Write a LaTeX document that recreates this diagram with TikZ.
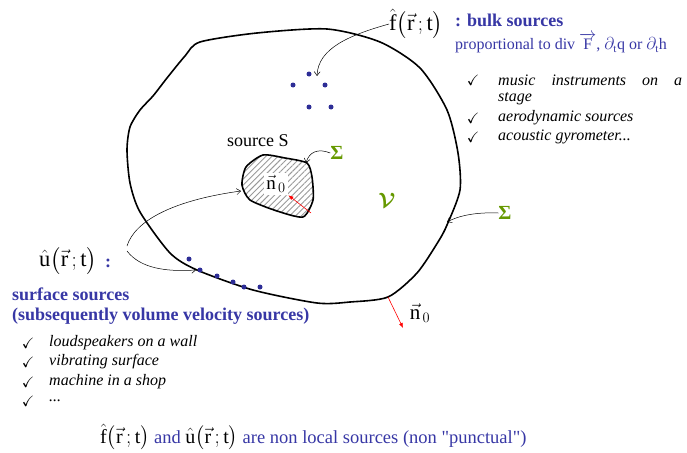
\documentclass[tikz,border=0pt]{standalone}
\usepackage{amsmath,amssymb}
\usepackage{fontspec}
\setmainfont{Liberation Serif}
\newfontfamily\qfont{Liberation Serif}[Ligatures=TeXOff]
\usetikzlibrary{patterns,patterns.meta,arrows.meta}
\definecolor{tblue}{RGB}{55,55,165}
\definecolor{tgreen}{RGB}{102,153,0}
\definecolor{dotblue}{RGB}{45,45,150}
\newcommand\fhatr{$\hat{\text{f}}\bigl(\vec{\text{r}}\,;\text{t}\bigr)$}
\newcommand\uhatr{$\hat{\text{u}}\bigl(\vec{\text{r}}\,;\text{t}\bigr)$}
\newcommand\nzero{$\vec{\text{n}}_{\,0}$}
\begin{document}
\begin{tikzpicture}[x=1pt,y=-1pt,
  lbl/.style={inner sep=0pt, anchor=west},
  bdry/.style={line width=1.6pt, line join=round},
  srcdot/.style={circle, fill=dotblue, inner sep=0pt, minimum size=5pt},
  thin arrow/.style={line width=0.5pt, -{Straight Barb[length=4pt,width=6pt]}},
  red arrow/.style={red, line width=0.6pt, -{Latex[length=5pt,width=4pt]}},
  chk/.style={inner sep=0pt, font=\fontsize{15}{17}\selectfont},
  itl/.style={inner sep=0pt, anchor=west, font=\fontsize{16}{18}\selectfont\itshape},
  sig/.style={inner sep=0pt, text=tgreen, font=\fontsize{20}{22}\selectfont\bfseries},
  bigmath/.style={inner sep=0pt, anchor=west, font=\fontsize{22.5}{26}\selectfont}]
\useasboundingbox (0,0) rectangle (687,452);

% outer volume boundary
\draw[bdry] plot[smooth cycle, tension=0.45] coordinates {
 (200,42) (257,33) (327,29) (380,42) (420,68) (447,110) (458,153)
 (460,190) (447,225) (438,242) (417,273) (388,297) (350,302) (317,303)
 (253,290) (197,270) (170,253) (140,212) (130,183) (127,150) (130,127)
 (140,110) (153,96) (167,78) (185,56)};

% inner source S
\draw[bdry, pattern={Lines[angle=45,distance=4.2pt,line width=0.9pt]}, pattern color=gray!80]
 plot[smooth cycle, tension=0.4] coordinates {
 (263,155) (285,158) (307,163) (312,177) (313,200) (303,217) (277,211)
 (250,200) (242,185) (246,167)};

\node[fill=white, inner sep=2.5pt, font=\fontsize{19}{21}\selectfont] (n0i) at (276,184) {\nzero};
\coordinate (ri) at (311,213);
\draw[red arrow] (ri) -- (n0i.south east);

\node[lbl, font=\fontsize{18}{20}\selectfont] (srcS) at (227,141) {source S};
\node[sig] (sigi) at (337,153) {Σ};
\coordinate (sigiend) at (306,163);
\draw[thin arrow] (sigi.west) .. controls (318,148) and (309,152) .. (sigiend);

\node[inner sep=0pt, text=tgreen, font=\fontsize{22}{24}\selectfont] (vol) at (387,200) {$\boldsymbol{\mathcal{V}}$};

\node[sig] (sigo) at (505,213) {Σ};
\coordinate (sigoend) at (447,222);
\draw[thin arrow] (sigo.west) .. controls (475,212) and (458,216) .. (sigoend);

% outer normal
\coordinate (ro) at (388,297);
\coordinate (roend) at (403,328);
\draw[red arrow] (ro) -- (roend);
\node[inner sep=0pt, font=\fontsize{21}{23}\selectfont] (n0o) at (420,313) {\nzero};

% bulk sources
\node[srcdot] (b1) at (309,74) {};
\node[srcdot] (b2) at (293,85) {};
\node[srcdot] (b3) at (325,85) {};
\node[srcdot] (b4) at (309,107) {};
\node[srcdot] (b5) at (331,107) {};

\node[bigmath] (fhat) at (389,24) {\fhatr};
\draw[thin arrow] (fhat.west) .. controls (350,35) and (318,48) .. (317,76);
\node[lbl, text=tblue, font=\fontsize{18}{20}\selectfont\bfseries] (bulk) at (455,20) {: bulk sources};
\node[lbl, text=tblue, font=\fontsize{16}{18}\selectfont] (prop) at (455,43)
 {proportional to div $\overrightarrow{\text{F}}$, $\partial_{\text{t}}$q or $\partial_{\text{t}}$h};

\node[chk] (c1) at (473,80) {$\checkmark$};
\node[chk] (c2) at (473,118) {$\checkmark$};
\node[chk] (c3) at (473,137) {$\checkmark$};
\node[itl] (t1) at (498,80) {\makebox[184pt][s]{music instruments on a}};
\node[itl] (t1b) at (498,99) {stage};
\node[itl] (t2) at (498,118) {aerodynamic sources};
\node[itl] (t3) at (498,137) {acoustic gyrometer...};

% surface sources
\node[srcdot] (s1) at (189,259) {};
\node[srcdot] (s2) at (200,270) {};
\node[srcdot] (s3) at (217,276) {};
\node[srcdot] (s4) at (233,282) {};
\node[srcdot] (s5) at (244,287) {};
\node[srcdot] (s6) at (260,287) {};

\node[bigmath] (uhat) at (39,261) {\uhatr};
\node[lbl, text=tblue, font=\fontsize{18}{20}\selectfont\bfseries] (ucol) at (105,263) {:};
\coordinate (ua) at (127,246);
\coordinate (ub) at (127,251);
\draw[thin arrow] (ua) .. controls (135,220) and (175,200) .. (241,191);
\draw[thin arrow] (ub) .. controls (140,268) and (165,272) .. (196,270);

\node[lbl, text=tblue, font=\fontsize{18}{20}\selectfont\bfseries] (surf) at (12,294) {surface sources};
\node[lbl, text=tblue, font=\fontsize{18}{20}\selectfont\bfseries] (subs) at (12,316) {(subsequently volume velocity sources)};

\node[chk] (d1) at (28,343) {$\checkmark$};
\node[chk] (d2) at (28,362) {$\checkmark$};
\node[chk] (d3) at (28,382) {$\checkmark$};
\node[chk] (d4) at (28,401) {$\checkmark$};
\node[itl] (u1) at (49,343) {loudspeakers on a wall};
\node[itl] (u2) at (49,362) {vibrating surface};
\node[itl] (u3) at (49,382) {machine in a shop};
\node[itl] (u4) at (49,401) {...};

% bottom line
\node[lbl, font=\fontsize{18.5}{22}\selectfont] (bottom) at (100,437)
 {{\fontsize{20}{23}\selectfont\fhatr}\ \textcolor{tblue}{and} {\fontsize{20}{23}\selectfont\uhatr}\ \textcolor{tblue}{are non local sources (non {\qfont"}punctual{\qfont"})}};
\end{tikzpicture}
\end{document}
